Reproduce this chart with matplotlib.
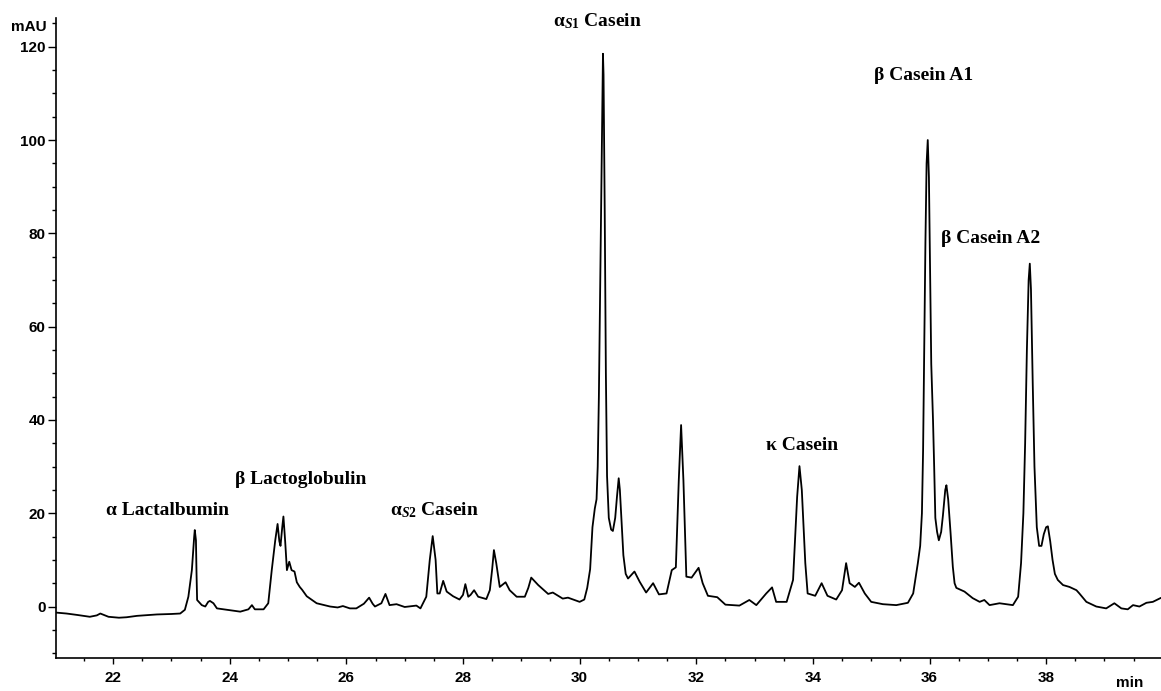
import numpy as np
import matplotlib.pyplot as plt
import matplotlib.transforms as mtransforms
from matplotlib.ticker import MultipleLocator

plt.rcParams['mathtext.fontset'] = 'custom'
plt.rcParams['mathtext.rm'] = 'Liberation Serif:bold'
plt.rcParams['mathtext.it'] = 'Liberation Serif:bold:italic'
plt.rcParams['mathtext.bf'] = 'Liberation Serif:bold'

# retention time (min) and absorbance (mAU)
time_min = [21.02, 21.2, 21.38, 21.6, 21.72, 21.78, 21.84, 21.92, 22.1, 22.23,
            22.41, 22.75, 23.0, 23.15, 23.23, 23.29, 23.35, 23.39, 23.4, 23.42,
            23.43, 23.44, 23.52, 23.58, 23.63, 23.66, 23.72, 23.78, 23.95, 24.18,
            24.32, 24.38, 24.43, 24.58, 24.66, 24.72, 24.78, 24.82, 24.85, 24.87,
            24.9, 24.92, 24.95, 24.98, 25.02, 25.06, 25.11, 25.15, 25.2, 25.24,
            25.32, 25.49, 25.72, 25.85, 25.94, 26.06, 26.17, 26.3, 26.39, 26.45,
            26.49, 26.6, 26.67, 26.74, 26.86, 27.0, 27.2, 27.27, 27.37, 27.43,
            27.48, 27.53, 27.56, 27.6, 27.66, 27.72, 27.83, 27.94, 28.0, 28.04,
            28.09, 28.13, 28.19, 28.26, 28.4, 28.46, 28.5, 28.53, 28.57, 28.63,
            28.73, 28.8, 28.92, 29.06, 29.12, 29.17, 29.29, 29.46, 29.54, 29.71,
            29.8, 30.0, 30.08, 30.13, 30.18, 30.22, 30.26, 30.29, 30.31, 30.33,
            30.35, 30.37, 30.39, 30.4, 30.41, 30.43, 30.45, 30.47, 30.5, 30.54,
            30.57, 30.61, 30.64, 30.67, 30.69, 30.72, 30.75, 30.79, 30.83, 30.94,
            31.03, 31.14, 31.26, 31.36, 31.49, 31.58, 31.65, 31.7, 31.74, 31.78,
            31.83, 31.92, 32.04, 32.11, 32.2, 32.36, 32.5, 32.74, 32.91, 33.03,
            33.2, 33.3, 33.37, 33.55, 33.66, 33.73, 33.77, 33.81, 33.87, 33.91,
            34.04, 34.15, 34.25, 34.4, 34.5, 34.57, 34.63, 34.72, 34.79, 34.89,
            35.0, 35.2, 35.43, 35.63, 35.72, 35.8, 35.84, 35.87, 35.89, 35.91,
            35.93, 35.95, 35.97, 35.99, 36.01, 36.03, 36.06, 36.08, 36.1, 36.13,
            36.16, 36.2, 36.23, 36.27, 36.29, 36.32, 36.36, 36.4, 36.43, 36.46,
            36.6, 36.74, 36.86, 36.94, 37.03, 37.2, 37.43, 37.52, 37.57, 37.61,
            37.64, 37.67, 37.7, 37.72, 37.74, 37.77, 37.8, 37.84, 37.88, 37.92,
            37.96, 38.0, 38.03, 38.07, 38.11, 38.15, 38.2, 38.29, 38.4, 38.52,
            38.57, 38.69, 38.86, 39.03, 39.17, 39.29, 39.4, 39.49, 39.6, 39.72,
            39.83, 39.96]
absorb_mau = [-1.3, -1.5, -1.8, -2.2, -1.9, -1.5, -1.8, -2.2, -2.4, -2.3,
              -2.0, -1.7, -1.6, -1.5, -0.7, 2.1, 7.8, 15.0, 16.4, 14.2,
              7.0, 1.4, 0.3, 0.0, 1.0, 1.2, 0.7, -0.4, -0.7, -1.1,
              -0.6, 0.3, -0.6, -0.6, 0.7, 7.8, 14.2, 17.7, 14.0, 13.0,
              17.0, 19.3, 14.0, 7.8, 9.6, 7.8, 7.5, 5.2, 4.2, 3.6,
              2.2, 0.7, 0.0, -0.2, 0.1, -0.4, -0.4, 0.6, 1.9, 0.6,
              0.0, 0.7, 2.7, 0.3, 0.5, -0.1, 0.2, -0.4, 2.1, 10.0,
              15.1, 10.0, 2.8, 2.8, 5.5, 3.2, 2.2, 1.5, 2.5, 4.8,
              2.1, 2.5, 3.5, 2.1, 1.6, 3.5, 8.0, 12.1, 9.3, 4.2,
              5.2, 3.5, 2.1, 2.1, 4.0, 6.2, 4.6, 2.7, 3.0, 1.7,
              1.9, 1.0, 1.5, 4.0, 8.0, 17.0, 21.0, 23.0, 30.0, 45.0,
              66.0, 88.0, 110.0, 118.5, 114.0, 85.0, 50.0, 28.0, 19.0, 16.5,
              16.2, 19.0, 23.5, 27.5, 25.0, 18.0, 11.0, 7.0, 6.0, 7.5,
              5.3, 3.0, 5.0, 2.6, 2.8, 7.8, 8.4, 27.0, 38.9, 27.0,
              6.4, 6.2, 8.3, 5.0, 2.3, 2.0, 0.4, 0.2, 1.4, 0.3,
              2.8, 4.1, 1.0, 1.0, 5.7, 23.5, 30.1, 25.0, 9.3, 2.8,
              2.3, 5.0, 2.3, 1.5, 3.5, 9.3, 5.0, 4.2, 5.1, 2.8,
              1.0, 0.5, 0.3, 0.8, 2.8, 9.3, 13.0, 20.0, 33.5, 55.0,
              78.0, 95.0, 100.0, 92.0, 72.0, 52.0, 40.0, 30.0, 19.0, 16.0,
              14.2, 16.0, 19.5, 25.0, 26.0, 23.0, 16.0, 8.5, 5.0, 4.0,
              3.2, 1.8, 1.0, 1.4, 0.3, 0.7, 0.3, 2.1, 9.3, 20.0,
              35.0, 55.0, 70.0, 73.5, 68.0, 48.0, 30.0, 17.0, 13.0, 13.0,
              15.5, 17.0, 17.2, 14.0, 10.0, 7.0, 5.7, 4.6, 4.2, 3.5,
              2.8, 1.0, 0.0, -0.4, 0.7, -0.4, -0.6, 0.3, 0.0, 0.8,
              1.0, 1.8]

# peak labels: text, x (min), y (mAU) of the text baseline
peak_names = ['α Lactalbumin', 'β Lactoglobulin', 'α$_{S2}$ Casein', 'α$_{S1}$ Casein',
              'κ Casein', 'β Casein A1', 'β Casein A2']
label_x = [22.93, 25.22, 27.51, 30.31, 33.82, 35.9, 37.05]
label_y = [19.6, 26.2, 19.6, 124.4, 33.5, 112.8, 77.9]

fig = plt.figure(figsize=(11.61, 6.91), dpi=100)
ax = fig.add_axes([56 / 1161, 32.7 / 691, 1105 / 1161, 640 / 691])

ax.plot(time_min, absorb_mau, color='black', linewidth=1.3)

ax.set_xlim(21.02, 39.97)
ax.set_ylim(-11.1, 126.1)

ax.spines['top'].set_visible(False)
ax.spines['right'].set_visible(False)
ax.spines['left'].set_linewidth(1.2)
ax.spines['bottom'].set_linewidth(1.2)

ax.xaxis.set_minor_locator(MultipleLocator(0.5))
ax.yaxis.set_minor_locator(MultipleLocator(5))
ax.set_xticks(np.arange(22, 39, 2))
ax.set_yticks(np.arange(0, 121, 20))

ax.tick_params(axis='y', which='major', length=5.5, width=1, pad=2)
ax.tick_params(axis='y', which='minor', length=3, width=1)
ax.tick_params(axis='x', which='major', length=4, width=1, pad=5)
ax.tick_params(axis='x', which='minor', length=2.5, width=1)
for lab in ax.get_xticklabels() + ax.get_yticklabels():
    lab.set_fontfamily('Liberation Sans')
    lab.set_fontweight('bold')
    lab.set_fontsize(11)

trans = mtransforms.blended_transform_factory(ax.transAxes, ax.transData)
ax.text(-0.0085, 124.3, 'mAU', transform=trans, ha='right', va='center',
        family='Liberation Sans', weight='bold', fontsize=11)
fig.text(1130 / 1161, 1 - 683 / 691, 'min', ha='center', va='center',
         family='Liberation Sans', weight='bold', fontsize=11)

for name, lx, ly in zip(peak_names, label_x, label_y):
    ax.text(lx, ly, name, ha='center', va='baseline', fontsize=14,
            family=['Liberation Serif', 'DejaVu Serif'], weight='bold', clip_on=False)

fig.savefig('out.png', dpi=100)
